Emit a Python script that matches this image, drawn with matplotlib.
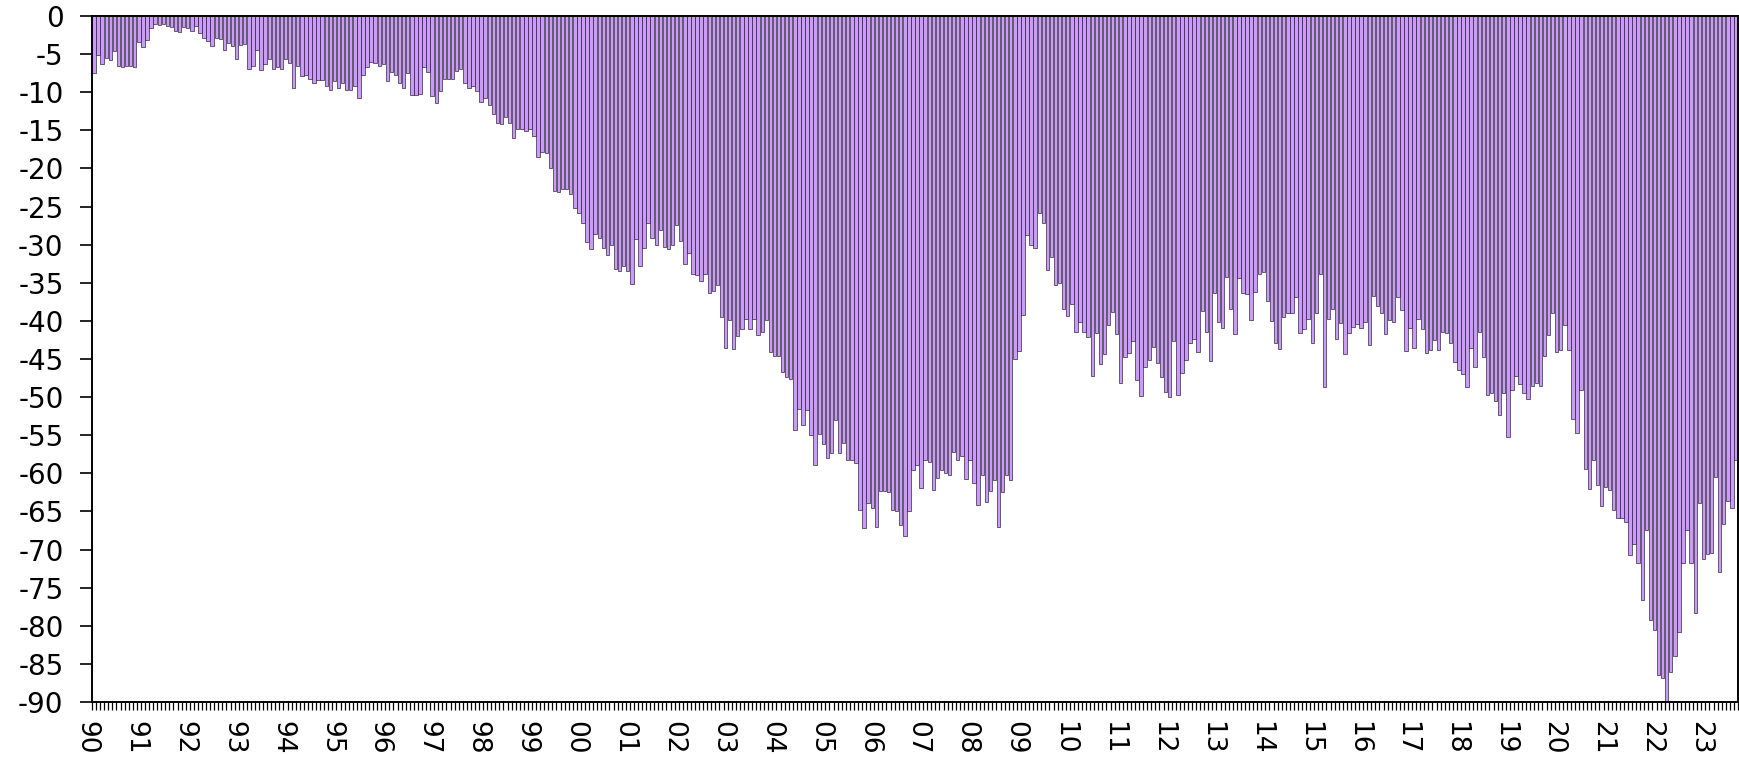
import matplotlib
matplotlib.use("Agg")
import matplotlib.pyplot as plt
import numpy as np

# Monthly values, Jan 1990 .. Aug 2023 (negative)
vals_1990s = [
    -7.5, -5.1, -6.3, -5.5, -5.8, -4.6, -6.6, -6.7, -6.5, -6.5, -6.7, -3.4,      # 1990
    -4.1, -3.1, -1.6, -1.0, -1.2, -1.0, -1.3, -1.5, -2.0, -2.1, -1.4, -1.6,      # 1991
    -2.0, -1.3, -2.2, -2.9, -3.3, -4.0, -2.9, -3.0, -4.5, -3.5, -3.9, -5.7,      # 1992
    -3.8, -3.7, -6.9, -6.6, -4.4, -7.1, -6.3, -5.7, -7.0, -6.7, -7.0, -5.7,      # 1993
    -6.2, -9.4, -6.6, -7.9, -7.7, -8.3, -8.8, -8.4, -8.4, -9.2, -9.7, -8.5,      # 1994
    -9.4, -8.8, -9.7, -9.7, -9.2, -10.7, -7.7, -6.7, -6.1, -6.2, -6.6, -6.3,     # 1995
    -8.5, -7.3, -7.7, -8.8, -9.4, -7.5, -10.3, -10.4, -10.2, -6.7, -7.3, -10.5,  # 1996
    -11.4, -9.8, -8.3, -8.2, -8.3, -7.2, -7.0, -8.8, -9.4, -9.2, -9.8, -11.3,    # 1997
    -10.8, -11.7, -12.9, -14.0, -14.2, -13.3, -14.0, -16.0, -14.8, -14.8, -15.1, -14.8,  # 1998
    -15.8, -18.5, -17.8, -18.0, -20.0, -22.9, -23.1, -22.7, -22.7, -23.3, -25.2, -25.9,  # 1999
]
vals_2000s = [
    -27.1, -29.7, -30.6, -28.6, -29.1, -30.5, -31.3, -30.0, -33.2, -33.4, -32.8, -33.4,  # 2000
    -35.2, -29.3, -32.8, -30.4, -27.1, -29.1, -30.0, -28.1, -30.3, -30.6, -30.0, -27.4,  # 2001
    -29.5, -32.5, -31.1, -33.9, -34.0, -34.8, -33.9, -36.4, -36.1, -35.3, -39.5, -43.6,  # 2002
    -39.9, -43.7, -42.0, -41.0, -39.7, -41.1, -39.8, -41.8, -41.4, -39.9, -44.1, -44.6,  # 2003
    -44.6, -46.7, -47.3, -47.6, -54.3, -51.5, -53.6, -51.7, -55.0, -58.9, -54.9, -56.2,  # 2004
    -58.0, -57.3, -53.0, -57.3, -56.0, -58.2, -58.2, -58.7, -64.8, -67.2, -63.9, -64.5,  # 2005
    -67.0, -62.3, -62.3, -62.4, -64.8, -65.0, -66.8, -68.2, -65.0, -59.5, -58.9, -61.9,  # 2006
    -58.2, -58.5, -62.2, -60.6, -59.6, -59.9, -60.2, -57.2, -58.2, -57.7, -60.7, -58.2,  # 2007
    -61.3, -64.2, -60.2, -63.7, -62.3, -60.9, -67.0, -62.4, -60.2, -60.9, -45.0, -43.9,  # 2008
    -39.2, -28.7, -30.1, -30.5, -25.8, -27.1, -33.3, -31.6, -35.3, -35.0, -38.4, -39.4,  # 2009
]
vals_2010s = [
    -37.8, -41.4, -40.2, -41.4, -42.1, -47.2, -41.6, -45.6, -44.3, -40.6, -38.8, -41.7,  # 2010
    -48.1, -44.7, -44.2, -42.7, -47.7, -49.9, -46.0, -45.1, -43.4, -45.5, -47.3, -49.3,  # 2011
    -50.0, -42.7, -49.7, -46.8, -45.1, -42.9, -42.4, -44.1, -38.7, -41.4, -45.2, -36.3,  # 2012
    -40.1, -40.9, -34.3, -38.4, -41.7, -34.4, -36.4, -36.5, -39.9, -36.2, -33.9, -33.6,  # 2013
    -37.4, -40.0, -42.9, -43.7, -39.5, -38.9, -38.9, -36.9, -41.6, -41.0, -39.7, -42.9,  # 2014
    -38.9, -33.9, -48.7, -39.7, -38.4, -42.4, -40.3, -44.3, -41.6, -40.8, -40.4, -40.9,  # 2015
    -40.1, -43.2, -36.7, -38.1, -39.0, -41.7, -39.9, -40.1, -36.9, -38.6, -43.9, -40.9,  # 2016
    -43.5, -39.7, -41.0, -44.2, -43.8, -42.5, -43.8, -41.4, -41.6, -42.9, -45.4, -46.5,  # 2017
    -47.0, -48.7, -43.6, -46.0, -41.4, -44.7, -49.7, -49.5, -50.5, -52.4, -49.4, -55.2,  # 2018
    -49.1, -47.2, -48.3, -49.4, -50.2, -48.5, -48.2, -48.5, -44.6, -41.8, -38.9, -44.1,  # 2019
]
vals_2020s = [
    -43.8, -40.5, -43.8, -52.9, -54.7, -49.1, -59.4, -62.1, -58.2, -61.5, -64.3, -61.8,  # 2020
    -62.2, -64.8, -65.8, -65.8, -66.4, -70.7, -69.3, -71.8, -76.6, -67.4, -79.3, -80.6,  # 2021
    -86.5, -86.9, -90.0, -86.0, -84.0, -80.8, -71.7, -67.4, -71.7, -78.3, -63.9, -71.3,  # 2022
    -70.6, -70.5, -60.5, -73.0, -66.7, -63.6, -64.6, -58.2,                              # 2023
]
year_labels = ["90", "91", "92", "93", "94", "95", "96", "97", "98", "99",
               "00", "01", "02", "03", "04", "05", "06", "07", "08", "09",
               "10", "11", "12", "13", "14", "15", "16", "17", "18", "19",
               "20", "21", "22", "23"]
y_ticks = list(range(0, -95, -5))

values = vals_1990s + vals_2000s + vals_2010s + vals_2020s
n = len(values)
x = np.arange(n)

plt.rcParams['font.family'] = ['DejaVu Sans']

W, H = 1740, 757
fig = plt.figure(figsize=(W / 100, H / 100), dpi=100)
ax = fig.add_axes([92 / W, 1 - 702 / H, (1738 - 92) / W, (702 - 16) / H])

ax.bar(x, values, width=0.84, color='#CC99FF', edgecolor='#1a1a1a', linewidth=0.45)

ax.set_xlim(-0.5, n - 0.5)
ax.set_ylim(-90, 0)

ax.set_yticks(y_ticks)
ax.set_yticklabels([str(v) for v in y_ticks])
ax.tick_params(axis='y', length=8.5, width=1.2, pad=12, labelsize=20, colors='black')

ax.set_xticks(np.arange(n + 1) - 0.5, minor=True)
ax.set_xticks([])
ax.tick_params(axis='x', which='minor', length=5.5, width=0.9, direction='out')

for k, lab in enumerate(year_labels):
    xpos = 12 * k - 1.85
    ax.annotate(lab, xy=(xpos, 0), xycoords=('data', 'axes fraction'),
                xytext=(0, -19), textcoords='offset pixels',
                rotation=270, ha='center', va='top', fontsize=19,
                annotation_clip=False)

for side in ['left', 'bottom', 'right', 'top']:
    ax.spines[side].set_color('black')
    ax.spines[side].set_linewidth(1.4)

fig.savefig('out.png', dpi=100)
